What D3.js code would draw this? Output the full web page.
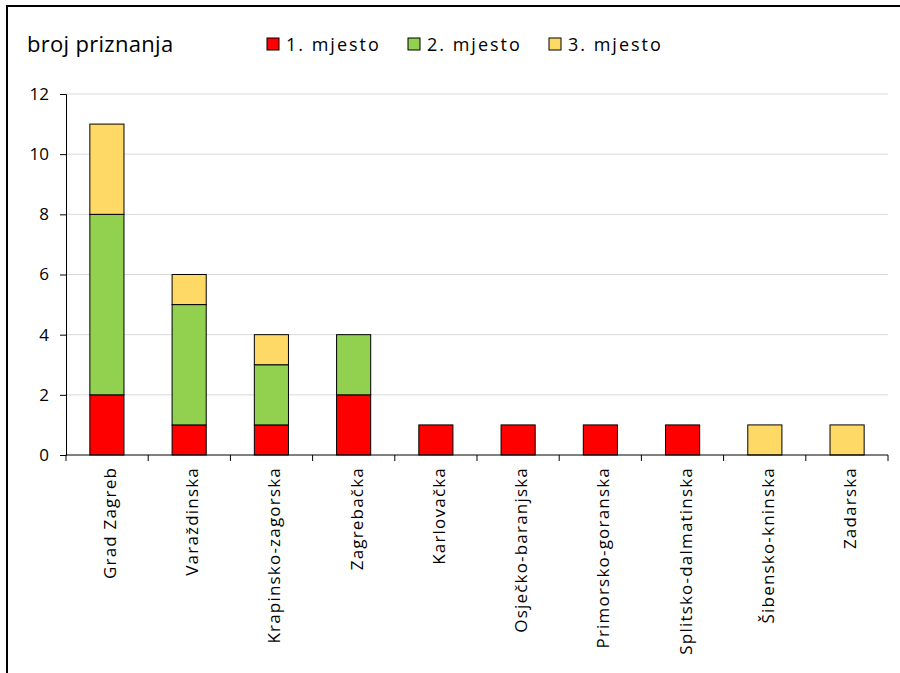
<!DOCTYPE html>
<html>
<head>
<meta charset="utf-8">
<script src="https://cdn.jsdelivr.net/npm/d3@7"></script>
<style>
  body { margin: 0; background: #fff; }
  text { font-family: "Open Sans", "DejaVu Sans", sans-serif; fill: #000; }
</style>
</head>
<body>
<div id="chart"></div>
<script>
// data
const counties = ["Grad Zagreb", "Varaždinska", "Krapinsko-zagorska", "Zagrebačka",
  "Karlovačka", "Osječko-baranjska", "Primorsko-goranska", "Splitsko-dalmatinska",
  "Šibensko-kninska", "Zadarska"];
const first = [2, 1, 1, 2, 1, 1, 1, 1, 0, 0];
const second = [6, 4, 2, 2, 0, 0, 0, 0, 0, 0];
const third = [3, 1, 1, 0, 0, 0, 0, 0, 1, 1];
const seriesNames = ["1. mjesto", "2. mjesto", "3. mjesto"];
const colors = ["#FF0000", "#92D050", "#FFD966"];
const yTicks = [0, 2, 4, 6, 8, 10, 12];

const width = 900;
const height = 673;
const margin = {left: 66, right: 12, top: 94, bottom: 218};

const svg = d3.select("#chart")
  .append("svg")
  .attr("width", width)
  .attr("height", height);

// frame (top + left edges visible)
svg.append("path")
  .attr("d", `M7,${height} L7,6 L${width},6`)
  .attr("fill", "none")
  .attr("stroke", "#000")
  .attr("stroke-width", 2);

const rows = counties.map((c, i) => ({county: c, s0: first[i], s1: second[i], s2: third[i]}));
const stack = d3.stack().keys(["s0", "s1", "s2"])(rows);

const x = d3.scaleBand()
  .domain(counties)
  .range([margin.left, width - margin.right])
  .paddingInner(0.585)
  .paddingOuter(0.29);

const y = d3.scaleLinear()
  .domain([0, 12])
  .range([height - margin.bottom, margin.top]);

// gridlines
svg.append("g")
  .selectAll("line")
  .data(yTicks.filter(d => d > 0))
  .enter()
  .append("line")
  .attr("x1", margin.left)
  .attr("x2", width - margin.right)
  .attr("y1", d => y(d))
  .attr("y2", d => y(d))
  .attr("stroke", "#d9d9d9")
  .attr("stroke-width", 1);

// bars
svg.append("g")
  .selectAll("g")
  .data(stack)
  .enter()
  .append("g")
  .attr("fill", (d, i) => colors[i])
  .selectAll("rect")
  .data(d => d.filter(p => p[1] > p[0]))
  .enter()
  .append("rect")
  .attr("x", d => x(d.data.county))
  .attr("y", d => y(d[1]))
  .attr("width", x.bandwidth())
  .attr("height", d => y(d[0]) - y(d[1]))
  .attr("stroke", "#000")
  .attr("stroke-width", 1);

// y axis
const yAxis = svg.append("g")
  .attr("transform", `translate(${margin.left},0)`)
  .call(d3.axisLeft(y).tickValues(yTicks).tickSize(6).tickPadding(11));
yAxis.selectAll("text").attr("font-size", "17px").style("font-family", "'Open Sans', sans-serif");
yAxis.select(".domain").attr("stroke", "#000");

// x axis: ticks at category boundaries
const bounds = d3.range(counties.length + 1).map(i => margin.left + i * (width - margin.left - margin.right) / counties.length);
const xg = svg.append("g");
xg.append("line")
  .attr("x1", margin.left)
  .attr("x2", width - margin.right)
  .attr("y1", y(0))
  .attr("y2", y(0))
  .attr("stroke", "#000");
xg.selectAll(".tk")
  .data(bounds)
  .enter()
  .append("line")
  .attr("class", "tk")
  .attr("x1", d => d)
  .attr("x2", d => d)
  .attr("y1", y(0))
  .attr("y2", y(0) + 6)
  .attr("stroke", "#000");
xg.selectAll(".lbl")
  .data(counties)
  .enter()
  .append("text")
  .attr("class", "lbl")
  .attr("transform", d => `translate(${x(d) + x.bandwidth() / 2 + 9},${y(0) + 12}) rotate(-90)`)
  .attr("text-anchor", "end")
  .attr("font-size", "17px")
  .attr("letter-spacing", "1.2px")
  .text(d => d);

// title
svg.append("text")
  .attr("x", 27)
  .attr("y", 52)
  .attr("font-size", "22px")
  .attr("letter-spacing", "0.3px")
  .text("broj priznanja");

// legend
const legendX = [267, 408, 549];
const legend = svg.append("g");
seriesNames.forEach((name, i) => {
  legend.append("rect")
    .attr("x", legendX[i])
    .attr("y", 38)
    .attr("width", 12)
    .attr("height", 12)
    .attr("fill", colors[i])
    .attr("stroke", "#000");
  legend.append("text")
    .attr("x", legendX[i] + 19)
    .attr("y", 51)
    .attr("font-size", "18px")
    .attr("letter-spacing", "2px")
    .text(name);
});
</script>
</body>
</html>
